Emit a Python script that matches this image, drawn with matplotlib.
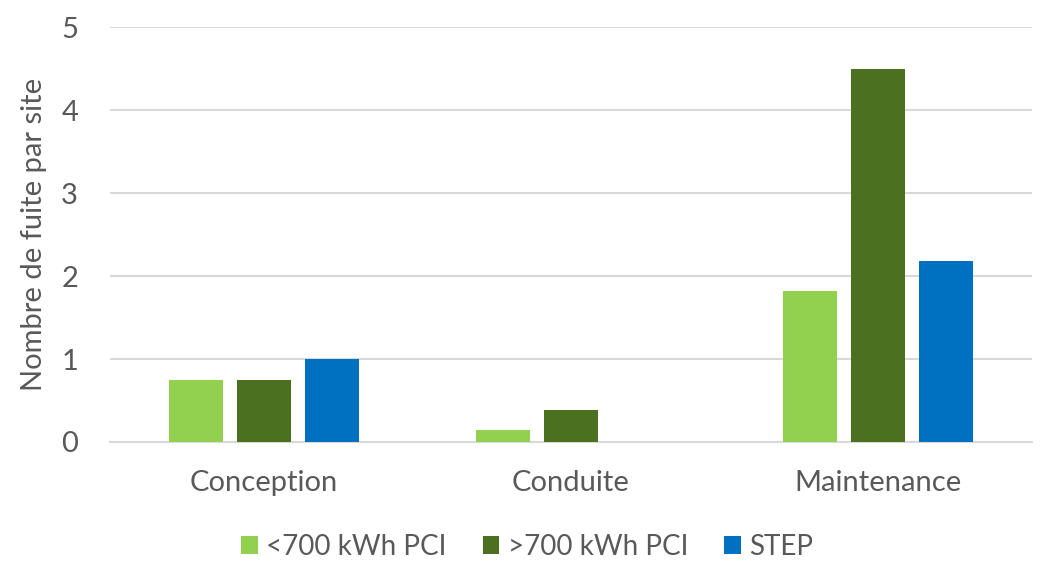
import matplotlib.pyplot as plt
import numpy as np

plt.rcParams['font.family'] = ['Lato', 'DejaVu Sans']

categories = ["Conception", "Conduite", "Maintenance"]
series_names = ["<700 kWh PCI", ">700 kWh PCI", "STEP"]
low_pci = [0.75, 0.14, 1.82]
high_pci = [0.75, 0.38, 4.5]
step = [1.0, 0.0, 2.18]
colors = ["#92D050", "#4A7020", "#0070C0"]

text_col = "#595959"
grid_col = "#D9D9D9"

fig = plt.figure(figsize=(10.5, 5.69), dpi=100)
ax = fig.add_axes([0.1048, 0.2232, 0.878, 0.7293])

x = np.arange(len(categories))
width = 0.176
offset = 0.2215
for i, (vals, name, col) in enumerate(zip([low_pci, high_pci, step], series_names, colors)):
    ax.bar(x + (i - 1) * offset, vals, width, color=col, label=name, zorder=3)

ax.set_xlim(-0.5, 2.5)
ax.set_ylim(0, 5)
ax.set_yticks(range(6))
ax.yaxis.grid(True, color=grid_col, linewidth=1.5, zorder=0)
for s in ["top", "right", "left"]:
    ax.spines[s].set_visible(False)
ax.spines["bottom"].set_color(grid_col)
ax.spines["bottom"].set_linewidth(1.5)
ax.tick_params(axis="both", length=0, labelsize=21, colors=text_col)
ax.tick_params(axis="y", pad=23)
ax.tick_params(axis="x", pad=20)
ax.set_xticks(x)
ax.set_xticklabels(categories)
ax.set_ylabel("Nombre de fuite par site", fontsize=21, color=text_col, labelpad=10)

fig.legend(loc="center", bbox_to_anchor=(0.502, 0.039), ncol=3, frameon=False,
           fontsize=20, labelcolor=text_col, handlelength=0.6, handleheight=0.6,
           handletextpad=0.3, columnspacing=1.3)

plt.savefig("out.png", dpi=100)
